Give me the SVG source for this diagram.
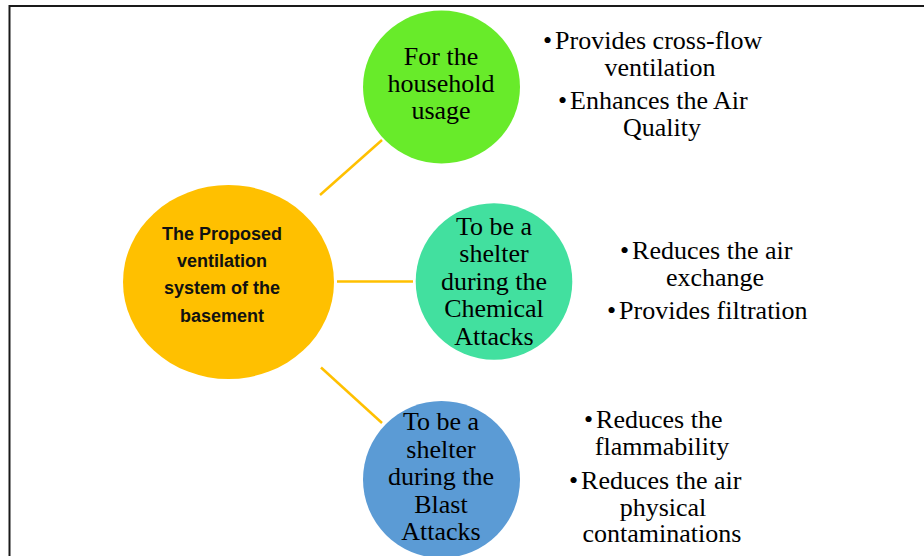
<svg xmlns="http://www.w3.org/2000/svg" width="924" height="556" viewBox="0 0 924 556">
<style>
.serif{font-family:"Liberation Serif","Times New Roman",serif;font-size:26px;fill:#000;}
.mid{text-anchor:middle;}
.hub{font-family:"Liberation Sans",Arial,sans-serif;font-size:18px;font-weight:bold;fill:#111;text-anchor:middle;}
.conn{stroke:#FFC000;stroke-width:2.5;fill:none;}
</style>
<rect x="0" y="0" width="924" height="556" fill="#fff"/>
<path d="M9.5,556 V6 H924" fill="none" stroke="#1a1a1a" stroke-width="2"/>
<g id="connectors">
<line class="conn" x1="320" y1="195" x2="382" y2="140"/>
<line class="conn" x1="337" y1="281.5" x2="413" y2="281.5"/>
<line class="conn" x1="321" y1="367.5" x2="382" y2="423"/>
</g>
<g id="hub">
<ellipse cx="228.5" cy="282" rx="105.5" ry="97" fill="#FFC000"/>
<text class="hub" x="222" y="240">The Proposed</text>
<text class="hub" x="222" y="267">ventilation</text>
<text class="hub" x="222" y="294">system of the</text>
<text class="hub" x="222" y="321.5">basement</text>
</g>
<g id="household">
<ellipse cx="441.5" cy="87" rx="78.5" ry="76.5" fill="#68EB2A"/>
<text class="serif mid" x="441" y="65">For the</text>
<text class="serif mid" x="441" y="92">household</text>
<text class="serif mid" x="441" y="119">usage</text>
</g>
<g id="chemical">
<circle cx="494" cy="281.5" r="78.3" fill="#42E09F"/>
<text class="serif mid" x="494" y="234.5">To be a</text>
<text class="serif mid" x="494" y="262">shelter</text>
<text class="serif mid" x="494" y="289.5">during the</text>
<text class="serif mid" x="494" y="317">Chemical</text>
<text class="serif mid" x="494" y="344.5">Attacks</text>
</g>
<g id="blast">
<circle cx="441.5" cy="479.5" r="78.5" fill="#5B9BD5"/>
<text class="serif mid" x="441" y="430">To be a</text>
<text class="serif mid" x="441" y="457.5">shelter</text>
<text class="serif mid" x="441" y="485">during the</text>
<text class="serif mid" x="441" y="512.5">Blast</text>
<text class="serif mid" x="441" y="540">Attacks</text>
</g>
<g id="household-notes">
<text class="serif" x="543" y="49">•<tspan dx="3">Provides cross-flow</tspan></text>
<text class="serif mid" x="660" y="75.5">ventilation</text>
<text class="serif" x="558" y="109">•<tspan dx="3">Enhances the Air</tspan></text>
<text class="serif mid" x="662" y="135.5">Quality</text>
</g>
<g id="chemical-notes">
<text class="serif" x="620" y="259">•<tspan dx="3">Reduces the air</tspan></text>
<text class="serif mid" x="715" y="285.5">exchange</text>
<text class="serif" x="607" y="319">•<tspan dx="3">Provides filtration</tspan></text>
</g>
<g id="blast-notes">
<text class="serif" x="584" y="428">•<tspan dx="3">Reduces the</tspan></text>
<text class="serif mid" x="662" y="455">flammability</text>
<text class="serif" x="569" y="489">•<tspan dx="3">Reduces the air</tspan></text>
<text class="serif mid" x="663" y="515.5">physical</text>
<text class="serif mid" x="662" y="542">contaminations</text>
</g>
</svg>
